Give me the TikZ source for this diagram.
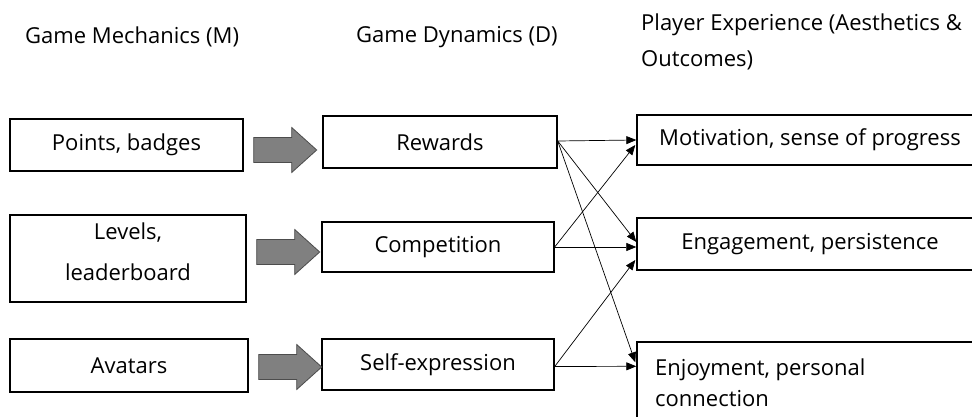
\documentclass[tikz,border=0pt]{standalone}
\usepackage{fontspec}
\setmainfont{Open Sans}
\usetikzlibrary{arrows.meta,calc}
\begin{document}
\begin{tikzpicture}[x=1pt,y=-1pt,
  txt/.style={font=\fontsize{22}{34}\selectfont, inner sep=0pt},
  box/.style={draw=black, line width=1.4pt, inner sep=0pt, align=center, txt},
  thin/.style={line width=0.7pt, -{Triangle[length=10pt,width=8pt]}},
  bigarr/.style={draw=black!70, line width=0.8pt, fill=black!50}]
\useasboundingbox (0,0) rectangle (972,417);
\clip (0,0) rectangle (972,417);
\fill[white] (0,0) rectangle (972,417);
% headers
\node[txt, anchor=west] (h1) at (25,37) {Game Mechanics (M)};
\node[txt, anchor=west] (h2) at (356,37) {Game Dynamics (D)};
\node[txt, anchor=west] (h3a) at (641,25) {Player Experience (Aesthetics \&};
\node[txt, anchor=west] (h3b) at (641,60) {Outcomes)};
% mechanics
\node[box, minimum width=233pt, minimum height=52pt] (m1) at (126.5,145) {Points, badges};
\node[box, minimum width=236pt, minimum height=87pt] (m2) at (128,258.5) {};
\node[txt, align=center, font=\fontsize{22}{41}\selectfont] (m2t) at (128,252) {Levels,\\leaderboard};
\node[box, minimum width=238pt, minimum height=53pt] (m3) at (129,365.5) {Avatars};
% dynamics
\node[box, minimum width=234pt, minimum height=52pt] (d1) at (440,142) {Rewards};
\node[box, minimum width=232pt, minimum height=50pt] (d2) at (438,247) {Competition};
\node[box, minimum width=232pt, minimum height=51pt] (d3) at (438,364.5) {Self-expression};
% experience
\node[box, minimum width=346pt, minimum height=50pt] (p1) at (810,140) {Motivation, sense of progress};
\node[box, minimum width=346pt, minimum height=52pt] (p2) at (810,244) {Engagement, persistence};
\node[box, minimum width=346pt, minimum height=98pt] (p3) at (810,391) {};
\node[txt, anchor=base west, align=left, font=\fontsize{22}{31}\selectfont] (p3t) at (655,406) {Enjoyment, personal\\connection};
% big arrows
\foreach \a/\b/\y in {m1/d1/150, m2/d2/252, m3/d3/367}{
  \coordinate (s) at ($(\a.east)+(10,0)$);
  \path[bigarr] (s |- 0,\y-12.5) -- ++(38,0) -- ++(0,-10) -- ++(25,22.5) -- ++(-25,22.5) -- ++(0,-10) -- ++(-38,0) -- cycle;
}
% thin arrows
\draw[thin] ($(d1.east)+(0,-1)$) -- ($(p1.west)+(0,0)$);
\draw[thin] ($(d1.east)+(0,-1)$) -- ($(p2.west)+(0,-2)$);
\draw[thin] ($(d1.east)+(0,-1)$) -- ($(p3.north west)+(-1,21)$);
\draw[thin] (d2.east) -- ($(p1.west)+(-1,5)$);
\draw[thin] (d2.east) -- ($(p2.west)+(0,3)$);
\draw[thin] ($(d3.east)+(0,2)$) -- ($(p2.west)+(-1,16)$);
\draw[thin] ($(d3.east)+(0,2)$) -- ($(p3.north west)+(0,25)$);
\end{tikzpicture}
\end{document}
